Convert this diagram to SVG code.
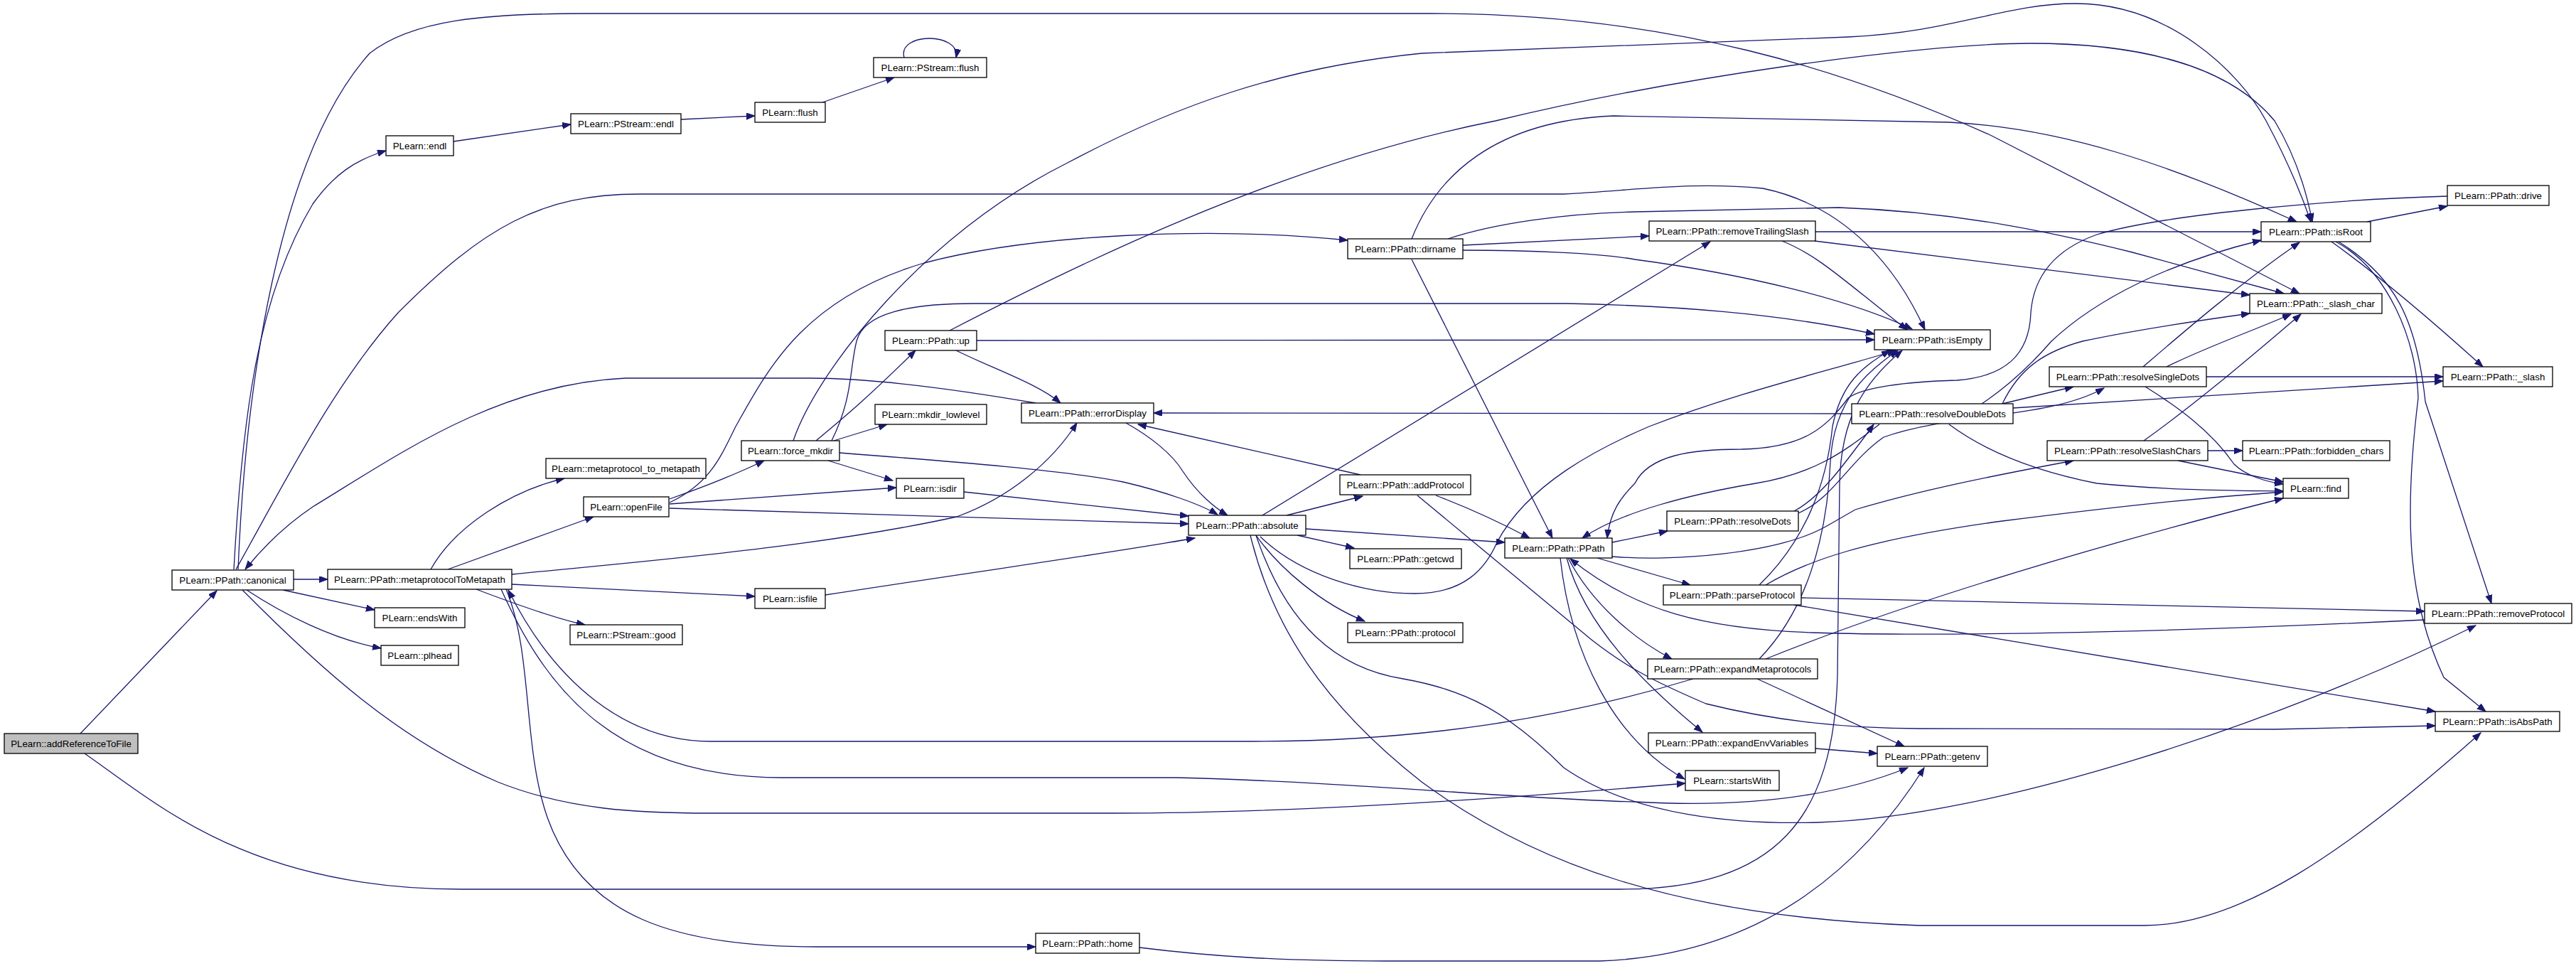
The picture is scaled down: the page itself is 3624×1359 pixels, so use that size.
<svg xmlns="http://www.w3.org/2000/svg" width="3624" height="1359" viewBox="0 0 3624 1359">
<style>
.n rect{fill:#fff;stroke:#000;stroke-width:1.3}
.n text{font-family:"Liberation Sans",Arial,sans-serif;font-size:13.33px;text-anchor:middle;fill:#000}
.e path{fill:none;stroke:#191970;stroke-width:1.3;marker-end:url(#ah)}
</style>
<defs>
<marker id="ah" markerUnits="userSpaceOnUse" markerWidth="13" markerHeight="10" refX="12" refY="4.5" orient="auto">
<path d="M0,0 L12,4.5 L0,9 Z" fill="#191970" stroke="#191970" stroke-width="1"/>
</marker>
</defs>
<rect width="3624" height="1359" fill="#fff"/>
<g id="edges" class="e">
<path d="M113,1032 L305,831"/>
<path d="M119,1060 C220,1130 350,1251 650,1251 L2280,1251 C2500,1251 2580,1150 2585,950 L2588,680 C2590,590 2620,540 2676,493"/>
<path d="M329,801 C340,600 360,420 440,287 C470,245 500,225 543,212"/>
<path d="M335,801 C345,550 390,220 520,75 C580,28 680,19 823,19 L2014,19 C2350,19 2600,100 2800,190 L3235,413"/>
<path d="M332,801 C400,680 470,540 560,440 C680,320 760,273 900,273 L2200,273 C2300,268 2380,255 2480,265 C2600,290 2670,380 2708,464"/>
<path d="M413,815 L461,815"/>
<path d="M398,830 L527,858"/>
<path d="M347,830 C400,865 470,900 536,912"/>
<path d="M341,830 C450,940 560,1040 700,1100 C800,1140 900,1144 1000,1144 L1566,1144 C1800,1144 2100,1125 2371,1102"/>
<path d="M1457,567 C1300,540 1200,532 1141,532 L880,532 C700,540 560,640 440,713 C400,740 370,770 345,801"/>
<path d="M638,199 L803,175"/>
<path d="M958,168 L1062,163"/>
<path d="M1157,144 L1258,109"/>
<path d="M1272,81 C1262,45 1352,45 1345,81"/>
<path d="M606,801 C640,740 720,690 794,673"/>
<path d="M630,801 L835,727"/>
<path d="M720,822 L1062,839"/>
<path d="M670,829 C720,848 780,870 823,879"/>
<path d="M720,808 C900,790 1150,770 1346,727 C1420,700 1480,650 1515,595"/>
<path d="M712,829 C750,920 735,1050 770,1150 C820,1290 950,1332 1150,1332 L1457,1332"/>
<path d="M705,829 C760,950 850,1094 1100,1094 L1655,1094 C1900,1100 2150,1125 2300,1128 C2420,1135 2560,1130 2684,1080"/>
<path d="M2382,955 C2200,1010 2000,1043 1763,1043 L1000,1043 C880,1043 780,960 715,830"/>
<path d="M942,702 C990,685 1040,665 1075,648"/>
<path d="M942,709 L1261,686"/>
<path d="M942,715 C1200,723 1450,730 1672,737"/>
<path d="M942,707 C1000,680 1015,640 1035,600 C1080,520 1130,420 1300,370 C1450,330 1700,318 1896,338"/>
<path d="M1148,620 C1190,585 1220,560 1288,493"/>
<path d="M1173,620 L1248,597"/>
<path d="M1165,648 L1256,676"/>
<path d="M1181,637 C1350,650 1500,662 1580,678 C1640,692 1690,710 1713,724"/>
<path d="M1116,620 C1150,520 1300,330 1500,230 C1650,150 1800,95 2000,75 L2600,52 C2750,45 2820,5 2920,5 C3050,5 3150,100 3188,170 C3220,230 3240,280 3251,312"/>
<path d="M1170,620 C1200,560 1195,520 1205,480 C1215,440 1280,427 1371,427 L2204,427 C2350,430 2500,440 2637,470"/>
<path d="M1374,479 L2637,478"/>
<path d="M1345,493 C1400,520 1460,540 1492,567"/>
<path d="M1336,465 C1500,380 1800,230 2104,170 C2350,110 2700,61 2856,61 C3050,61 3150,110 3200,170 C3230,220 3245,270 3253,312"/>
<path d="M1356,692 L1672,726"/>
<path d="M1161,837 C1400,800 1550,780 1681,757"/>
<path d="M1584,595 C1620,615 1650,640 1664,663 C1685,695 1710,715 1727,725"/>
<path d="M1810,725 L1917,698"/>
<path d="M1825,753 L1905,771"/>
<path d="M1767,753 C1800,800 1860,850 1920,874"/>
<path d="M1837,744 L2117,763"/>
<path d="M1776,725 L2406,340"/>
<path d="M1773,755 C1830,810 1920,835 1990,835 C2060,835 2090,800 2106,763 C2150,680 2250,630 2320,600 C2450,550 2580,520 2667,493"/>
<path d="M1767,753 C1810,880 1880,940 1974,955 C2060,970 2120,1000 2200,1080 C2300,1150 2450,1160 2558,1157 C2800,1150 3200,1020 3483,880"/>
<path d="M1759,753 C1790,880 1860,990 2000,1100 C2150,1210 2350,1290 2700,1302 L3017,1302 C3150,1302 3300,1200 3490,1031"/>
<path d="M1914,668 L1601,597"/>
<path d="M2020,697 C2080,720 2120,740 2152,757"/>
<path d="M1994,697 L2239,900 C2290,940 2330,960 2400,990 C2500,1015 2600,1025 2702,1025 L3200,1026 L3426,1021"/>
<path d="M2058,345 L2320,332"/>
<path d="M2058,352 C2150,352 2250,356 2300,365 C2450,385 2600,420 2690,463"/>
<path d="M1986,336 C2020,250 2100,170 2270,163 L2742,172 C2900,180 3050,230 3231,312"/>
<path d="M2037,336 C2100,315 2200,300 2300,298 L2587,292 C2760,298 2900,330 3000,355 L3213,413"/>
<path d="M1986,365 L2184,757"/>
<path d="M2554,326 L3181,326"/>
<path d="M2507,339 C2560,360 2600,400 2683,464"/>
<path d="M2553,339 L3165,415"/>
<path d="M3330,312 L3443,290"/>
<path d="M3280,340 C3350,390 3420,450 3493,516"/>
<path d="M3290,340 C3370,390 3400,450 3412,565 L3505,849"/>
<path d="M3286,340 C3360,380 3400,480 3402,560 C3380,740 3390,850 3438,953 L3497,1001"/>
<path d="M3443,276 C3300,280 3050,300 2950,330 C2880,355 2860,400 2857,440 C2855,500 2820,530 2753,535 C2680,537 2620,545 2600,560 C2570,600 2540,630 2450,632 C2380,632 2320,640 2300,680 C2280,700 2265,720 2261,757"/>
<path d="M2644,597 C2600,630 2560,665 2470,680 C2380,695 2280,720 2226,757"/>
<path d="M2605,582 L1623,581"/>
<path d="M2817,568 L2917,544"/>
<path d="M2832,574 L3437,536"/>
<path d="M2742,597 C2800,640 2874,665 2950,680 C3050,690 3150,690 3212,691"/>
<path d="M2788,568 C2830,540 2860,510 2886,480 C2950,420 3050,370 3181,338"/>
<path d="M2817,568 C2840,520 2874,495 2930,480 C3000,465 3100,450 3165,441"/>
<path d="M3015,516 C3080,460 3150,400 3235,341"/>
<path d="M3048,516 C3100,490 3170,465 3223,442"/>
<path d="M3104,530 L3437,530"/>
<path d="M3018,544 C3060,570 3110,605 3143,653 C3160,670 3190,678 3212,681"/>
<path d="M3106,634 L3155,634"/>
<path d="M3064,648 L3212,678"/>
<path d="M3016,620 C3100,560 3180,490 3237,442"/>
<path d="M2524,719 C2560,700 2590,660 2636,597"/>
<path d="M2530,722 C2580,700 2600,650 2650,615 C2750,580 2880,590 2960,546"/>
<path d="M2268,763 L2346,747"/>
<path d="M2268,783 C2350,790 2500,780 2570,740 L2610,717 C2700,690 2800,670 2917,648"/>
<path d="M2247,785 L2378,823"/>
<path d="M2206,785 C2240,850 2300,900 2352,927"/>
<path d="M2204,785 C2230,880 2310,960 2395,1030"/>
<path d="M2195,785 C2210,920 2270,1040 2370,1096"/>
<path d="M3411,872 C3000,892 2700,895 2550,890 C2400,885 2300,860 2209,786"/>
<path d="M2534,841 L3411,860"/>
<path d="M2484,823 C2540,790 2620,760 2817,733 C3000,710 3100,700 3212,692"/>
<path d="M2524,851 L3426,1001"/>
<path d="M2475,823 C2540,760 2570,680 2578,600 C2590,540 2620,515 2659,493"/>
<path d="M2475,927 C2540,860 2570,760 2575,650 C2580,560 2630,520 2670,493"/>
<path d="M2484,927 C2650,860 2900,780 3212,701"/>
<path d="M2472,955 L2679,1050"/>
<path d="M2554,1053 L2641,1060"/>
<path d="M1603,1333 C1700,1345 1800,1352 1948,1352 L2250,1352 C2450,1345 2600,1250 2707,1080"/>
</g>
<g id="n_addReferenceToFile" class="n"><rect x="6" y="1032" width="188" height="28" style="fill:#bfbfbf"/><text x="100" y="1050.5">PLearn::addReferenceToFile</text></g>
<g id="n_canonical" class="n"><rect x="242" y="802" width="171" height="28"/><text x="327.5" y="820.5">PLearn::PPath::canonical</text></g>
<g id="n_endl" class="n"><rect x="543" y="191" width="95" height="28"/><text x="590.5" y="209.5">PLearn::endl</text></g>
<g id="n_pstream_endl" class="n"><rect x="803" y="160" width="155" height="28"/><text x="880.5" y="178.5">PLearn::PStream::endl</text></g>
<g id="n_flush" class="n"><rect x="1062" y="144" width="99" height="28"/><text x="1111.5" y="162.5">PLearn::flush</text></g>
<g id="n_pstream_flush" class="n"><rect x="1229" y="81" width="159" height="28"/><text x="1308.5" y="99.5">PLearn::PStream::flush</text></g>
<g id="n_mtm" class="n"><rect x="461" y="801" width="259" height="28"/><text x="590.5" y="819.5">PLearn::PPath::metaprotocolToMetapath</text></g>
<g id="n_endsWith" class="n"><rect x="527" y="855" width="127" height="28"/><text x="590.5" y="873.5">PLearn::endsWith</text></g>
<g id="n_plhead" class="n"><rect x="536" y="908" width="109" height="28"/><text x="590.5" y="926.5">PLearn::plhead</text></g>
<g id="n_mp_to_mp" class="n"><rect x="768" y="645" width="225" height="28"/><text x="880.5" y="663.5">PLearn::metaprotocol_to_metapath</text></g>
<g id="n_openFile" class="n"><rect x="821" y="699" width="120" height="28"/><text x="881" y="717.5">PLearn::openFile</text></g>
<g id="n_good" class="n"><rect x="802" y="879" width="158" height="28"/><text x="881" y="897.5">PLearn::PStream::good</text></g>
<g id="n_isfile" class="n"><rect x="1062" y="828" width="99" height="28"/><text x="1111.5" y="846.5">PLearn::isfile</text></g>
<g id="n_force_mkdir" class="n"><rect x="1043" y="620" width="138" height="28"/><text x="1112" y="638.5">PLearn::force_mkdir</text></g>
<g id="n_up" class="n"><rect x="1245" y="465" width="129" height="28"/><text x="1309.5" y="483.5">PLearn::PPath::up</text></g>
<g id="n_mkdir_lowlevel" class="n"><rect x="1231" y="569" width="157" height="28"/><text x="1309.5" y="587.5">PLearn::mkdir_lowlevel</text></g>
<g id="n_isdir" class="n"><rect x="1261" y="673" width="95" height="28"/><text x="1308.5" y="691.5">PLearn::isdir</text></g>
<g id="n_home" class="n"><rect x="1457" y="1313" width="146" height="28"/><text x="1530" y="1331.5">PLearn::PPath::home</text></g>
<g id="n_errorDisplay" class="n"><rect x="1437" y="567" width="186" height="28"/><text x="1530" y="585.5">PLearn::PPath::errorDisplay</text></g>
<g id="n_absolute" class="n"><rect x="1672" y="725" width="165" height="28"/><text x="1754.5" y="743.5">PLearn::PPath::absolute</text></g>
<g id="n_dirname" class="n"><rect x="1896" y="336" width="162" height="28"/><text x="1977" y="354.5">PLearn::PPath::dirname</text></g>
<g id="n_addProtocol" class="n"><rect x="1885" y="668" width="184" height="28"/><text x="1977" y="686.5">PLearn::PPath::addProtocol</text></g>
<g id="n_getcwd" class="n"><rect x="1899" y="772" width="157" height="28"/><text x="1977.5" y="790.5">PLearn::PPath::getcwd</text></g>
<g id="n_protocol" class="n"><rect x="1896" y="876" width="162" height="28"/><text x="1977" y="894.5">PLearn::PPath::protocol</text></g>
<g id="n_PPath" class="n"><rect x="2117" y="757" width="151" height="28"/><text x="2192.5" y="775.5">PLearn::PPath::PPath</text></g>
<g id="n_removeTrailingSlash" class="n"><rect x="2320" y="311" width="234" height="28"/><text x="2437" y="329.5">PLearn::PPath::removeTrailingSlash</text></g>
<g id="n_resolveDots" class="n"><rect x="2345" y="719" width="185" height="28"/><text x="2437.5" y="737.5">PLearn::PPath::resolveDots</text></g>
<g id="n_parseProtocol" class="n"><rect x="2340" y="823" width="194" height="28"/><text x="2437" y="841.5">PLearn::PPath::parseProtocol</text></g>
<g id="n_expandMetaprotocols" class="n"><rect x="2318" y="927" width="239" height="28"/><text x="2437.5" y="945.5">PLearn::PPath::expandMetaprotocols</text></g>
<g id="n_expandEnvVariables" class="n"><rect x="2319" y="1031" width="235" height="28"/><text x="2436.5" y="1049.5">PLearn::PPath::expandEnvVariables</text></g>
<g id="n_startsWith" class="n"><rect x="2371" y="1084" width="132" height="28"/><text x="2437" y="1102.5">PLearn::startsWith</text></g>
<g id="n_isEmpty" class="n"><rect x="2637" y="464" width="163" height="28"/><text x="2718.5" y="482.5">PLearn::PPath::isEmpty</text></g>
<g id="n_resolveDoubleDots" class="n"><rect x="2605" y="568" width="227" height="28"/><text x="2718.5" y="586.5">PLearn::PPath::resolveDoubleDots</text></g>
<g id="n_getenv" class="n"><rect x="2641" y="1050" width="155" height="28"/><text x="2718.5" y="1068.5">PLearn::PPath::getenv</text></g>
<g id="n_resolveSingleDots" class="n"><rect x="2883" y="516" width="221" height="28"/><text x="2993.5" y="534.5">PLearn::PPath::resolveSingleDots</text></g>
<g id="n_resolveSlashChars" class="n"><rect x="2880" y="620" width="226" height="28"/><text x="2993" y="638.5">PLearn::PPath::resolveSlashChars</text></g>
<g id="n_isRoot" class="n"><rect x="3181" y="312" width="154" height="28"/><text x="3258" y="330.5">PLearn::PPath::isRoot</text></g>
<g id="n_slash_char" class="n"><rect x="3165" y="413" width="186" height="28"/><text x="3258" y="431.5">PLearn::PPath::_slash_char</text></g>
<g id="n_find" class="n"><rect x="3212" y="673" width="92" height="28"/><text x="3258" y="691.5">PLearn::find</text></g>
<g id="n_forbidden_chars" class="n"><rect x="3155" y="620" width="207" height="28"/><text x="3258.5" y="638.5">PLearn::PPath::forbidden_chars</text></g>
<g id="n_drive" class="n"><rect x="3443" y="261" width="143" height="28"/><text x="3514.5" y="279.5">PLearn::PPath::drive</text></g>
<g id="n_slash" class="n"><rect x="3437" y="516" width="154" height="28"/><text x="3514" y="534.5">PLearn::PPath::_slash</text></g>
<g id="n_removeProtocol" class="n"><rect x="3411" y="849" width="207" height="28"/><text x="3514.5" y="867.5">PLearn::PPath::removeProtocol</text></g>
<g id="n_isAbsPath" class="n"><rect x="3426" y="1001" width="175" height="28"/><text x="3513.5" y="1019.5">PLearn::PPath::isAbsPath</text></g>
</svg>
